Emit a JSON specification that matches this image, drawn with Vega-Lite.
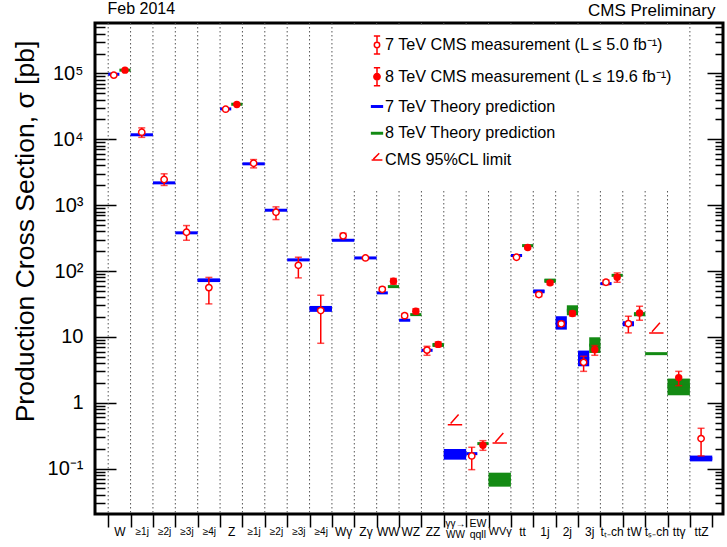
{
  "$schema": "https://vega.github.io/schema/vega-lite/v6.json",
  "width": 628,
  "height": 491,
  "autosize": {"type": "none"},
  "padding": {"left": 95, "top": 23, "right": 4, "bottom": 33},
  "background": "white",
  "config": {
    "font": "Liberation Sans",
    "view": {"stroke": "black", "strokeWidth": 3},
    "axis": {
      "grid": false,
      "domain": false,
      "labelFont": "Liberation Sans",
      "titleFont": "Liberation Sans",
      "labelColor": "black",
      "titleColor": "black",
      "tickColor": "black",
      "titleFontWeight": "normal"
    },
    "legend": {
      "orient": "none",
      "legendX": 247,
      "legendY": 2,
      "padding": 10,
      "fillColor": "white",
      "labelFont": "Liberation Sans",
      "labelFontSize": 16.2,
      "labelColor": "black",
      "labelLimit": 600,
      "labelOffset": -2,
      "symbolOffset": 15,
      "symbolSize": 324,
      "symbolStrokeWidth": 1.5,
      "symbolOpacity": 1,
      "rowPadding": 7.75,
      "titleOrient": "bottom",
      "titleFontSize": 10,
      "titlePadding": 1,
      "titleLimit": 1000
    }
  },
  "datasets": {
    "cols": [
      {"col": 0}, {"col": 1}, {"col": 2}, {"col": 3}, {"col": 4}, {"col": 5}, {"col": 6},
      {"col": 7}, {"col": 8}, {"col": 9}, {"col": 10}, {"col": 11}, {"col": 12}, {"col": 13},
      {"col": 14}, {"col": 15}, {"col": 16}, {"col": 17}, {"col": 18}, {"col": 19}, {"col": 20},
      {"col": 21}, {"col": 22}, {"col": 23}, {"col": 24}, {"col": 25}, {"col": 26}
    ],
    "theory": [
      {"col": 0, "slot": "L", "e": 7, "v": 97000},
      {"col": 0, "slot": "R", "e": 8, "v": 112000},
      {"col": 1, "slot": "F", "e": 7, "v": 11700},
      {"col": 2, "slot": "F", "e": 7, "v": 2180},
      {"col": 3, "slot": "F", "e": 7, "v": 380},
      {"col": 4, "slot": "F", "e": 7, "v": 72.4, "lo": 68, "hi": 77},
      {"col": 5, "slot": "L", "e": 7, "v": 28900},
      {"col": 5, "slot": "R", "e": 8, "v": 34000},
      {"col": 6, "slot": "F", "e": 7, "v": 4240},
      {"col": 7, "slot": "F", "e": 7, "v": 837},
      {"col": 8, "slot": "F", "e": 7, "v": 147.6},
      {"col": 9, "slot": "F", "e": 7, "v": 26.9, "lo": 24, "hi": 29.5},
      {"col": 10, "slot": "F", "e": 7, "v": 293},
      {"col": 11, "slot": "F", "e": 7, "v": 158},
      {"col": 12, "slot": "L", "e": 7, "v": 46.6},
      {"col": 12, "slot": "R", "e": 8, "v": 58.0},
      {"col": 13, "slot": "L", "e": 7, "v": 17.9},
      {"col": 13, "slot": "R", "e": 8, "v": 21.8},
      {"col": 14, "slot": "L", "e": 7, "v": 6.26},
      {"col": 14, "slot": "R", "e": 8, "v": 7.55, "lo": 7.05, "hi": 8.1},
      {"col": 15, "slot": "F", "e": 7, "v": 0.165, "lo": 0.137, "hi": 0.199},
      {"col": 16, "slot": "L", "e": 7, "v": 0.169},
      {"col": 16, "slot": "R", "e": 8, "v": 0.24},
      {"col": 17, "slot": "F", "e": 8, "v": 0.068, "lo": 0.0533, "hi": 0.0869},
      {"col": 18, "slot": "L", "e": 7, "v": 172},
      {"col": 18, "slot": "R", "e": 8, "v": 243},
      {"col": 19, "slot": "L", "e": 7, "v": 49.3, "lo": 45.9, "hi": 52.3},
      {"col": 19, "slot": "R", "e": 8, "v": 71.6, "lo": 66.1, "hi": 76.7},
      {"col": 20, "slot": "L", "e": 7, "v": 16.3, "lo": 12.9, "hi": 20.6},
      {"col": 20, "slot": "R", "e": 8, "v": 25.4, "lo": 21.3, "hi": 30.2},
      {"col": 21, "slot": "L", "e": 7, "v": 4.7, "lo": 3.58, "hi": 6.2},
      {"col": 21, "slot": "R", "e": 8, "v": 7.5, "lo": 5.71, "hi": 9.87},
      {"col": 22, "slot": "L", "e": 7, "v": 64.4},
      {"col": 22, "slot": "R", "e": 8, "v": 86},
      {"col": 23, "slot": "L", "e": 7, "v": 15.8, "lo": 14.5, "hi": 17.3},
      {"col": 23, "slot": "R", "e": 8, "v": 22.2, "lo": 20.6, "hi": 23.7},
      {"col": 24, "slot": "F", "e": 8, "v": 5.57},
      {"col": 25, "slot": "F", "e": 8, "v": 1.8, "lo": 1.3, "hi": 2.33},
      {"col": 26, "slot": "F", "e": 7, "v": 0.143, "lo": 0.129, "hi": 0.158}
    ],
    "meas": [
      {"col": 0, "slot": "L", "e": 7, "v": 94000},
      {"col": 0, "slot": "R", "e": 8, "v": 112000},
      {"col": 1, "slot": "F", "e": 7, "v": 12800, "lo": 10700, "hi": 14900},
      {"col": 2, "slot": "F", "e": 7, "v": 2450, "lo": 1990, "hi": 2990},
      {"col": 3, "slot": "F", "e": 7, "v": 388, "lo": 293, "hi": 490},
      {"col": 4, "slot": "F", "e": 7, "v": 56, "lo": 31.7, "hi": 80},
      {"col": 5, "slot": "L", "e": 7, "v": 28600},
      {"col": 5, "slot": "R", "e": 8, "v": 33700},
      {"col": 6, "slot": "F", "e": 7, "v": 4320, "lo": 3680, "hi": 4920},
      {"col": 7, "slot": "F", "e": 7, "v": 780, "lo": 604, "hi": 942},
      {"col": 8, "slot": "F", "e": 7, "v": 122, "lo": 78.7, "hi": 162},
      {"col": 9, "slot": "F", "e": 7, "v": 25.1, "lo": 8.0, "hi": 42.9},
      {"col": 10, "slot": "F", "e": 7, "v": 342, "lo": 311, "hi": 374},
      {"col": 11, "slot": "F", "e": 7, "v": 158, "lo": 152, "hi": 165},
      {"col": 12, "slot": "L", "e": 7, "v": 52.8, "lo": 49.5, "hi": 56.5},
      {"col": 12, "slot": "R", "e": 8, "v": 69.9, "lo": 63, "hi": 77},
      {"col": 13, "slot": "L", "e": 7, "v": 21.0, "lo": 19.5, "hi": 22.6},
      {"col": 13, "slot": "R", "e": 8, "v": 24.5, "lo": 22.5, "hi": 26.8},
      {"col": 14, "slot": "L", "e": 7, "v": 6.3, "lo": 5.26, "hi": 7.2},
      {"col": 14, "slot": "R", "e": 8, "v": 7.7, "lo": 7.1, "hi": 8.4},
      {"col": 16, "slot": "L", "e": 7, "v": 0.156, "lo": 0.0966, "hi": 0.211},
      {"col": 16, "slot": "R", "e": 8, "v": 0.226, "lo": 0.19, "hi": 0.266},
      {"col": 18, "slot": "L", "e": 7, "v": 162, "lo": 155, "hi": 169},
      {"col": 18, "slot": "R", "e": 8, "v": 227, "lo": 217, "hi": 238},
      {"col": 19, "slot": "L", "e": 7, "v": 43.9, "lo": 41, "hi": 47},
      {"col": 19, "slot": "R", "e": 8, "v": 66.1, "lo": 62, "hi": 70.5},
      {"col": 20, "slot": "L", "e": 7, "v": 15.8, "lo": 14.5, "hi": 17.2},
      {"col": 20, "slot": "R", "e": 8, "v": 22.6, "lo": 20.8, "hi": 24.5},
      {"col": 21, "slot": "L", "e": 7, "v": 4.11, "lo": 3.0, "hi": 5.08},
      {"col": 21, "slot": "R", "e": 8, "v": 6.41, "lo": 5.26, "hi": 7.38},
      {"col": 22, "slot": "L", "e": 7, "v": 67.5, "lo": 62, "hi": 73},
      {"col": 22, "slot": "R", "e": 8, "v": 80.4, "lo": 67.5, "hi": 93.7},
      {"col": 23, "slot": "L", "e": 7, "v": 15.9, "lo": 11.5, "hi": 20.6},
      {"col": 23, "slot": "R", "e": 8, "v": 23.1, "lo": 17.9, "hi": 29.2},
      {"col": 25, "slot": "F", "e": 8, "v": 2.41, "lo": 1.82, "hi": 3.0},
      {"col": 26, "slot": "F", "e": 7, "v": 0.286, "lo": 0.156, "hi": 0.41}
    ],
    "limits": [
      {"col": 15, "v": 0.466},
      {"col": 17, "v": 0.245},
      {"col": 24, "v": 11.5}
    ],
    "legendItems": [
      {"kind": "7 TeV CMS measurement (L ≤ 5.0 fb⁻¹)"},
      {"kind": "8 TeV CMS measurement (L ≤ 19.6 fb⁻¹)"},
      {"kind": "7 TeV Theory prediction"},
      {"kind": "8 TeV Theory prediction"},
      {"kind": "CMS 95%CL limit"}
    ]
  },
  "resolve": {"axis": {"x": "independent", "y": "independent"}},
  "layer": [
    {
      "data": {"name": "cols"},
      "mark": {"type": "rule", "stroke": "#555555", "strokeWidth": 1, "strokeDash": [1.5, 2.5]},
      "encoding": {
        "x": {
          "field": "col", "type": "quantitative",
          "scale": {"domain": [-0.59, 27.48], "nice": false, "zero": false},
          "axis": {
            "orient": "bottom",
            "title": null,
            "values": [0, 1, 2, 3, 4, 5, 6, 7, 8, 9, 10, 11, 12, 13, 14, 15, 16, 17, 18, 19, 20, 21, 22, 23, 24, 25, 26, 27],
            "tickSize": 13,
            "tickWidth": 1.5,
            "labelOffset": 11.18,
            "labelPadding": {"condition": {"test": "datum.value == 15 || datum.value == 16", "value": -4}, "value": 4},
            "labelBaseline": "middle",
            "labelFontSize": {
              "condition": [
                {"test": "(datum.value >= 1 && datum.value <= 4) || (datum.value >= 6 && datum.value <= 9) || datum.value == 15", "value": 10},
                {"test": "datum.value == 16", "value": 10.5},
                {"test": "datum.value == 17", "value": 11}
              ],
              "value": 12
            },
            "labelLineHeight": 11,
            "labelOverlap": false,
            "labelBound": false,
            "labelFlush": false,
            "labelExpr": "datum.value < 27 ? ['W','≥1j','≥2j','≥3j','≥4j','Z','≥1j','≥2j','≥3j','≥4j','Wγ','Zγ','WW','WZ','ZZ',['γγ→','WW'],['EW','qqll'],'WVγ','tt','1j','2j','3j','tₜ₋ch','tW','tₛ₋ch','ttγ','ttZ'][datum.value] : ''"
          }
        }
      }
    },
    {
      "data": {"name": "theory"},
      "transform": [
        {"filter": "isValid(datum.lo)"},
        {"calculate": "datum.col + (datum.slot == 'R' ? 0.5 : 0)", "as": "x0"},
        {"calculate": "datum.col + (datum.slot == 'L' ? 0.5 : 1)", "as": "x1"}
      ],
      "mark": {"type": "rect"},
      "encoding": {
        "x": {"field": "x0", "type": "quantitative", "scale": {"domain": [-0.59, 27.48], "nice": false, "zero": false}, "axis": null},
        "x2": {"field": "x1"},
        "y": {
          "field": "lo", "type": "quantitative",
          "scale": {"type": "log", "domain": [0.0205, 582000], "nice": false},
          "axis": {"orient": "right", "values": [0.1, 1, 10, 100, 1000, 10000, 100000], "tickSize": -16, "tickWidth": 1.5, "labels": false, "title": null}
        },
        "y2": {"field": "hi"},
        "fill": {"condition": {"test": "datum.e == 7", "value": "#0000ff"}, "value": "#138a13"}
      }
    },
    {
      "data": {"name": "theory"},
      "transform": [
        {"calculate": "datum.col + (datum.slot == 'R' ? 0.5 : 0)", "as": "x0"},
        {"calculate": "datum.col + (datum.slot == 'L' ? 0.5 : 1)", "as": "x1"}
      ],
      "mark": {"type": "rule", "strokeWidth": 3},
      "encoding": {
        "x": {
          "field": "x0", "type": "quantitative",
          "scale": {"domain": [-0.59, 27.48], "nice": false, "zero": false},
          "axis": {"orient": "top", "ticks": false, "labels": false, "domain": false, "title": "CMS Preliminary", "titleFontSize": 17, "titleX": 620, "titleY": -8, "titleAlign": "right", "titleBaseline": "alphabetic", "titleAngle": 0}
        },
        "x2": {"field": "x1"},
        "y": {
          "field": "v", "type": "quantitative",
          "scale": {"type": "log", "domain": [0.0205, 582000], "nice": false},
          "axis": {"orient": "right", "values": [0.03, 0.04, 0.05, 0.06, 0.07, 0.08, 0.09, 0.2, 0.3, 0.4, 0.5, 0.6, 0.7, 0.8, 0.9, 2, 3, 4, 5, 6, 7, 8, 9, 20, 30, 40, 50, 60, 70, 80, 90, 200, 300, 400, 500, 600, 700, 800, 900, 2000, 3000, 4000, 5000, 6000, 7000, 8000, 9000, 20000, 30000, 40000, 50000, 60000, 70000, 80000, 90000, 200000, 300000, 400000, 500000], "tickSize": -8, "tickWidth": 1.5, "labels": false, "title": null}
        },
        "stroke": {"condition": {"test": "datum.e == 7", "value": "#0000ff"}, "value": "#138a13"}
      }
    },
    {
      "data": {"name": "meas"},
      "transform": [
        {"filter": "isValid(datum.lo)"},
        {"calculate": "datum.col + (datum.slot == 'L' ? 0.25 : datum.slot == 'R' ? 0.75 : 0.5)", "as": "xm"}
      ],
      "mark": {"type": "rule", "stroke": "#ff0000", "strokeWidth": 1.5},
      "encoding": {
        "x": {
          "field": "xm", "type": "quantitative",
          "scale": {"domain": [-0.59, 27.48], "nice": false, "zero": false},
          "axis": {"orient": "top", "ticks": false, "labels": false, "domain": false, "title": "Feb 2014", "titleFontSize": 16, "titleX": 12, "titleY": -9.5, "titleAlign": "left", "titleBaseline": "alphabetic", "titleAngle": 0}
        },
        "y": {"field": "lo", "type": "quantitative", "scale": {"type": "log", "domain": [0.0205, 582000], "nice": false}, "axis": null},
        "y2": {"field": "hi"}
      }
    },
    {
      "data": {"name": "meas"},
      "transform": [
        {"filter": "isValid(datum.lo)"},
        {"calculate": "datum.col + (datum.slot == 'L' ? 0.25 : datum.slot == 'R' ? 0.75 : 0.5)", "as": "xm"},
        {"fold": ["lo", "hi"], "as": ["end", "bound"]}
      ],
      "mark": {"type": "tick", "orient": "horizontal", "size": 7, "thickness": 1.5, "color": "#ff0000"},
      "encoding": {
        "x": {"field": "xm", "type": "quantitative", "scale": {"domain": [-0.59, 27.48], "nice": false, "zero": false}, "axis": null},
        "y": {"field": "bound", "type": "quantitative", "scale": {"type": "log", "domain": [0.0205, 582000], "nice": false}, "axis": null}
      }
    },
    {
      "data": {"name": "meas"},
      "transform": [
        {"filter": "datum.e == 7"},
        {"calculate": "datum.col + (datum.slot == 'L' ? 0.25 : datum.slot == 'R' ? 0.75 : 0.5)", "as": "xm"}
      ],
      "mark": {"type": "point", "shape": "circle", "size": 40, "filled": true, "fill": "white", "stroke": "#ff0000", "strokeWidth": 1.5, "opacity": 1},
      "encoding": {
        "x": {"field": "xm", "type": "quantitative", "scale": {"domain": [-0.59, 27.48], "nice": false, "zero": false}, "axis": null},
        "y": {
          "field": "v", "type": "quantitative",
          "scale": {"type": "log", "domain": [0.0205, 582000], "nice": false},
          "axis": {
            "orient": "left",
            "values": [0.1, 1, 10, 100, 1000, 10000, 100000],
            "tickSize": -21,
            "tickWidth": 1.5,
            "labelFontSize": 20,
            "labelPadding": 33,
            "labelExpr": "datum.value == 100000 ? '10⁵' : datum.value == 10000 ? '10⁴' : datum.value == 1000 ? '10³' : datum.value == 100 ? '10²' : datum.value == 10 ? '10' : datum.value == 1 ? '1' : datum.value == 0.1 ? '10⁻¹' : ''",
            "title": "Production Cross Section, σ [pb]",
            "titleFontSize": 26.5,
            "titleX": -62,
            "titleY": 208,
            "titleAngle": 270,
            "titleAlign": "center",
            "titleBaseline": "alphabetic"
          }
        }
      }
    },
    {
      "data": {"name": "meas"},
      "transform": [
        {"filter": "datum.e == 8"},
        {"calculate": "datum.col + (datum.slot == 'L' ? 0.25 : datum.slot == 'R' ? 0.75 : 0.5)", "as": "xm"}
      ],
      "mark": {"type": "point", "shape": "circle", "size": 55, "filled": true, "fill": "#ff0000", "strokeWidth": 0, "opacity": 1},
      "encoding": {
        "x": {"field": "xm", "type": "quantitative", "scale": {"domain": [-0.59, 27.48], "nice": false, "zero": false}, "axis": null},
        "y": {
          "field": "v", "type": "quantitative",
          "scale": {"type": "log", "domain": [0.0205, 582000], "nice": false},
          "axis": {"orient": "left", "values": [0.03, 0.04, 0.05, 0.06, 0.07, 0.08, 0.09, 0.2, 0.3, 0.4, 0.5, 0.6, 0.7, 0.8, 0.9, 2, 3, 4, 5, 6, 7, 8, 9, 20, 30, 40, 50, 60, 70, 80, 90, 200, 300, 400, 500, 600, 700, 800, 900, 2000, 3000, 4000, 5000, 6000, 7000, 8000, 9000, 20000, 30000, 40000, 50000, 60000, 70000, 80000, 90000, 200000, 300000, 400000, 500000], "tickSize": -10, "tickWidth": 1.5, "labels": false, "title": null}
        }
      }
    },
    {
      "data": {"name": "limits"},
      "transform": [
        {"calculate": "datum.col + 0.5", "as": "xm"}
      ],
      "mark": {"type": "point", "shape": "M-1,0L1,0M-0.6,-0.15L0.5,-1.4", "size": 207, "filled": false, "stroke": "#ff0000", "strokeWidth": 1.5, "opacity": 1},
      "encoding": {
        "x": {"field": "xm", "type": "quantitative", "scale": {"domain": [-0.59, 27.48], "nice": false, "zero": false}, "axis": null},
        "y": {"field": "v", "type": "quantitative", "scale": {"type": "log", "domain": [0.0205, 582000], "nice": false}, "axis": null}
      }
    },
    {
      "data": {"name": "legendItems"},
      "mark": {"type": "point", "filled": true, "opacity": 0, "strokeWidth": 1.5},
      "encoding": {
        "shape": {
          "field": "kind", "type": "nominal",
          "scale": {
            "domain": ["7 TeV CMS measurement (L ≤ 5.0 fb⁻¹)", "8 TeV CMS measurement (L ≤ 19.6 fb⁻¹)", "7 TeV Theory prediction", "8 TeV Theory prediction", "CMS 95%CL limit"],
            "range": [
              "M0,-1L0,-0.33M0,0.33L0,1M-0.35,-1L0.35,-1M-0.35,1L0.35,1M0.3,0A0.3,0.3,0,1,1,-0.3,0A0.3,0.3,0,1,1,0.3,0Z",
              "M0,-1L0,1M-0.35,-1L0.35,-1M-0.35,1L0.35,1M0.35,0A0.35,0.35,0,1,1,-0.35,0A0.35,0.35,0,1,1,0.35,0Z",
              "M-0.6,-0.08L0.6,-0.08L0.6,0.08L-0.6,0.08Z",
              "M-0.6,-0.08L0.6,-0.08L0.6,0.08L-0.6,0.08Z",
              "M-0.6,0L0.6,0M-0.4,-0.1L0.25,-0.75"
            ]
          },
          "legend": {"title": "\u2003\u2003\u2003\u2003\u2003\u2003\u2003\u2003\u2003\u2003\u2003\u2003\u2003\u2003\u2003\u2003\u2003\u2003\u2003\u2003\u2003\u2003\u2003\u2003\u2003\u2003\u2003\u2003\u2003\u2003\u2003\u2003\u2003\u2003"}
        },
        "fill": {
          "field": "kind", "type": "nominal",
          "scale": {
            "domain": ["7 TeV CMS measurement (L ≤ 5.0 fb⁻¹)", "8 TeV CMS measurement (L ≤ 19.6 fb⁻¹)", "7 TeV Theory prediction", "8 TeV Theory prediction", "CMS 95%CL limit"],
            "range": ["#ffffff", "#ff0000", "#0000ff", "#138a13", "#ff0000"]
          },
          "legend": {"title": "\u2003\u2003\u2003\u2003\u2003\u2003\u2003\u2003\u2003\u2003\u2003\u2003\u2003\u2003\u2003\u2003\u2003\u2003\u2003\u2003\u2003\u2003\u2003\u2003\u2003\u2003\u2003\u2003\u2003\u2003\u2003\u2003\u2003\u2003"}
        },
        "stroke": {
          "field": "kind", "type": "nominal",
          "scale": {
            "domain": ["7 TeV CMS measurement (L ≤ 5.0 fb⁻¹)", "8 TeV CMS measurement (L ≤ 19.6 fb⁻¹)", "7 TeV Theory prediction", "8 TeV Theory prediction", "CMS 95%CL limit"],
            "range": ["#ff0000", "#ff0000", "#0000ff", "#138a13", "#ff0000"]
          },
          "legend": {"title": "\u2003\u2003\u2003\u2003\u2003\u2003\u2003\u2003\u2003\u2003\u2003\u2003\u2003\u2003\u2003\u2003\u2003\u2003\u2003\u2003\u2003\u2003\u2003\u2003\u2003\u2003\u2003\u2003\u2003\u2003\u2003\u2003\u2003\u2003"}
        }
      }
    }
  ]
}
